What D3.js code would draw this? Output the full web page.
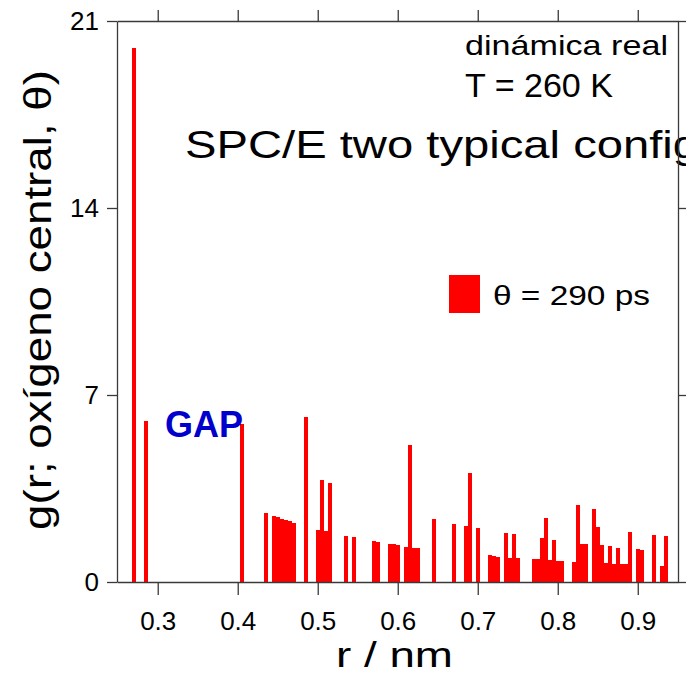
<!DOCTYPE html>
<html>
<head>
<meta charset="utf-8">
<script src="https://cdn.jsdelivr.net/npm/d3@7"></script>
<style>
  html, body {margin: 0; padding: 0; background: #fff;}
  svg {display: block; font-family: 'Liberation Sans', Arial, sans-serif;}
</style>
</head>
<body>
<svg id="chart" width="686" height="675"></svg>
<script>
// bin centres (nm), bin width 0.005 nm, only non-empty bins
const rBins = [
  0.270, 0.285, 0.405, 0.435, 0.445, 0.450, 0.455, 0.460, 0.465, 0.470,
  0.485, 0.500, 0.505, 0.510, 0.515, 0.535, 0.545, 0.570, 0.575, 0.590,
  0.595, 0.600, 0.610, 0.615, 0.620, 0.625, 0.645, 0.670, 0.685, 0.690,
  0.700, 0.715, 0.720, 0.725, 0.735, 0.740, 0.745, 0.750, 0.770, 0.775,
  0.780, 0.785, 0.790, 0.795, 0.800, 0.805, 0.820, 0.825, 0.830, 0.835,
  0.845, 0.850, 0.855, 0.860, 0.865, 0.870, 0.875, 0.880, 0.885, 0.890,
  0.900, 0.905, 0.920, 0.930, 0.935,
];
const gValues = [
  20.0, 6.04, 5.92, 2.60, 2.47, 2.42, 2.37, 2.33, 2.28, 2.22,
  6.17, 1.95, 3.82, 1.91, 3.69, 1.72, 1.67, 1.55, 1.50, 1.42,
  1.42, 1.38, 1.32, 5.13, 1.29, 1.29, 2.35, 2.17, 2.10, 4.07,
  2.01, 1.01, 0.97, 0.95, 1.85, 0.91, 1.80, 0.91, 0.86, 0.86,
  1.64, 2.40, 0.82, 1.58, 0.79, 0.79, 0.74, 2.88, 1.42, 1.42,
  2.72, 2.05, 1.37, 0.70, 1.34, 0.66, 1.29, 0.66, 0.66, 1.87,
  1.23, 1.20, 1.76, 0.61, 1.71,
];
const binWidth = 0.005;
const xTicks = [0.3, 0.4, 0.5, 0.6, 0.7, 0.8, 0.9];
const yTicks = [0, 7, 14, 21];
const seriesLabel = '\u03b8 = 290 ps';

const plotLeft = 117;
const plotRight = 678;
const plotTop = 21;
const plotBottom = 582;
const red = '#ff0000';
const axisColor = '#3a3a3a';

const svg = d3.select('#chart');

const x = d3.scaleLinear()
    .domain([0.2491, 0.9503])
    .range([plotLeft, plotRight]);
const y = d3.scaleLinear()
    .domain([0, 21])
    .range([plotBottom, plotTop]);

const data = rBins.map((r, i) => ({r: r, g: gValues[i]}));

// text that sits under the frame (runs off the right edge, as in the original)
svg.append('text')
    .attr('x', 185)
    .attr('y', 158)
    .attr('font-size', 39)
    .attr('textLength', 682)
    .attr('lengthAdjust', 'spacingAndGlyphs')
    .text('SPC/E two typical configurations');

// bars, crisp so neighbouring bins join without seams
svg.append('g')
    .attr('shape-rendering', 'crispEdges')
    .selectAll('rect')
    .data(data)
    .enter()
    .append('rect')
    .attr('x', (d) => x(d.r - binWidth / 2))
    .attr('width', (d) => x(d.r + binWidth / 2) - x(d.r - binWidth / 2))
    .attr('y', (d) => y(d.g))
    .attr('height', (d) => y(0) - y(d.g))
    .attr('fill', red);

// axes on all four sides, ticks outward
const styleAxis = (g) => {
  g.select('.domain').attr('stroke', axisColor).attr('stroke-width', 1.3);
  g.selectAll('.tick line').attr('stroke', axisColor).attr('stroke-width', 1.3);
  g.selectAll('.tick text')
      .attr('fill', '#000')
      .attr('font-size', 26)
      .attr('font-family', '\'Liberation Sans\', Arial, sans-serif');
};

svg.append('g')
    .attr('transform', 'translate(0,' + plotBottom + ')')
    .call(d3.axisBottom(x).tickValues(xTicks).tickSize(13).tickSizeOuter(0)
        .tickPadding(17).tickFormat(d3.format('.1f')))
    .call(styleAxis);

svg.append('g')
    .attr('transform', 'translate(0,' + plotTop + ')')
    .call(d3.axisTop(x).tickValues(xTicks).tickSize(11).tickSizeOuter(0)
        .tickFormat(''))
    .call(styleAxis);

svg.append('g')
    .attr('transform', 'translate(' + plotLeft + ',0)')
    .call(d3.axisLeft(y).tickValues(yTicks).tickSize(10).tickSizeOuter(0)
        .tickPadding(8))
    .call(styleAxis);

svg.append('g')
    .attr('transform', 'translate(' + plotRight + ',0)')
    .call(d3.axisRight(y).tickValues(yTicks).tickSize(10).tickSizeOuter(0)
        .tickFormat(''))
    .call(styleAxis);

// axis titles
svg.append('text')
    .attr('x', 336)
    .attr('y', 667)
    .attr('font-size', 35)
    .attr('textLength', 117)
    .attr('lengthAdjust', 'spacingAndGlyphs')
    .text('r / nm');

svg.append('text')
    .attr('transform', 'translate(51,530) rotate(-90)')
    .attr('font-size', 39)
    .attr('textLength', 460)
    .attr('lengthAdjust', 'spacingAndGlyphs')
    .text('g(r; ox\u00edgeno central, \u03b8)');

// annotations
svg.append('text')
    .attr('x', 465)
    .attr('y', 55)
    .attr('font-size', 28)
    .attr('textLength', 203)
    .attr('lengthAdjust', 'spacingAndGlyphs')
    .text('din\u00e1mica real');

svg.append('text')
    .attr('x', 465)
    .attr('y', 97)
    .attr('font-size', 33)
    .attr('textLength', 148)
    .attr('lengthAdjust', 'spacingAndGlyphs')
    .text('T = 260 K');

svg.append('text')
    .attr('x', 165)
    .attr('y', 437)
    .attr('font-size', 36)
    .attr('font-weight', 'bold')
    .attr('fill', '#0000cc')
    .text('GAP');

// legend
svg.append('rect')
    .attr('x', 449)
    .attr('y', 275)
    .attr('width', 31)
    .attr('height', 38)
    .attr('fill', red);

svg.append('text')
    .attr('x', 493)
    .attr('y', 305)
    .attr('font-size', 28)
    .attr('textLength', 157)
    .attr('lengthAdjust', 'spacingAndGlyphs')
    .text(seriesLabel);
</script>
</body>
</html>
